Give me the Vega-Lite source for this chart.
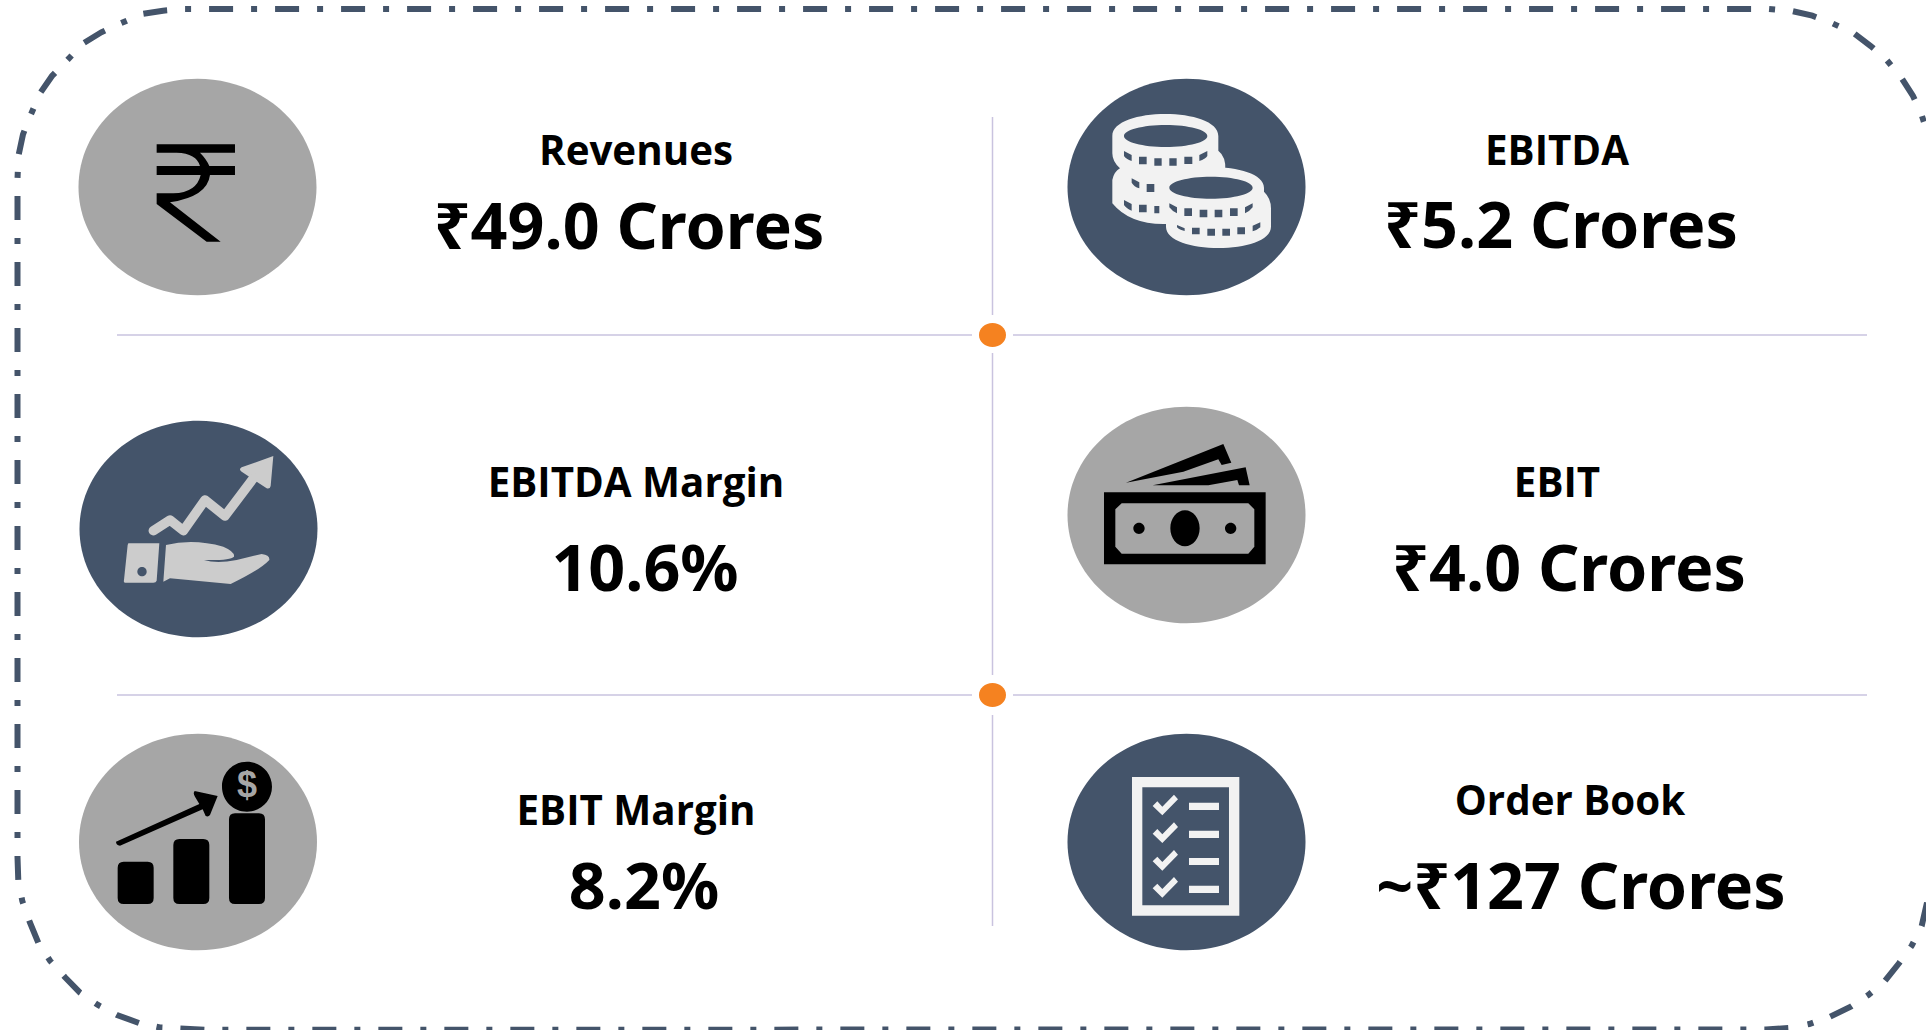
{"$schema":"https://vega.github.io/schema/vega-lite/v6.json","width":1926,"height":1030,"padding":0,"autosize":{"type":"none"},"background":"white","config":{"view":{"stroke":null}},"encoding":{"x":{"field":"x","type":"quantitative","scale":{"domain":[0,1926],"nice":false,"zero":false},"axis":null},"y":{"field":"y","type":"quantitative","scale":{"domain":[1030,0],"nice":false,"zero":false},"axis":null}},"layer":[{"data":{"values":[{"x":117,"x2":972,"y":335,"y2":335},{"x":1013,"x2":1867,"y":335,"y2":335},{"x":117,"x2":972,"y":695,"y2":695},{"x":1013,"x2":1867,"y":695,"y2":695},{"x":992.5,"x2":992.5,"y":117,"y2":315},{"x":992.5,"x2":992.5,"y":353,"y2":675},{"x":992.5,"x2":992.5,"y":715,"y2":926}]},"mark":{"type":"rule","color":"#C9C3DF","strokeWidth":1.5},"encoding":{"x2":{"field":"x2"},"y2":{"field":"y2"}}},{"data":{"values":[{"s":"a","o":0,"x":1788.3,"y":1028},{"s":"a","o":1,"x":1766,"y":1029.5},{"s":"a","o":2,"x":205,"y":1029.7},{"s":"a","o":3,"x":160,"y":1027.5},{"s":"a","o":4,"x":139,"y":1023},{"s":"a","o":5,"x":117,"y":1015},{"s":"a","o":6,"x":98,"y":1005},{"s":"a","o":7,"x":80,"y":992.7},{"s":"a","o":8,"x":65,"y":977.3},{"s":"a","o":9,"x":50,"y":960.7},{"s":"a","o":10,"x":38.3,"y":942.7},{"s":"a","o":11,"x":30,"y":922.7},{"s":"a","o":12,"x":22.3,"y":901},{"s":"a","o":13,"x":18.3,"y":880.7},{"s":"a","o":14,"x":17.5,"y":857},{"s":"a","o":15,"x":17.5,"y":220},{"s":"a","o":16,"x":17.5,"y":179},{"s":"a","o":17,"x":18.5,"y":155.5},{"s":"a","o":18,"x":23,"y":134.3},{"s":"a","o":19,"x":30.7,"y":115},{"s":"a","o":20,"x":40,"y":93.3},{"s":"a","o":21,"x":52,"y":76},{"s":"a","o":22,"x":66.7,"y":60.7},{"s":"a","o":23,"x":83.3,"y":43.3},{"s":"a","o":24,"x":101.3,"y":32.3},{"s":"a","o":25,"x":120.7,"y":23.3},{"s":"a","o":26,"x":142.3,"y":14},{"s":"a","o":27,"x":163,"y":10.7},{"s":"a","o":28,"x":184,"y":9},{"s":"a","o":29,"x":1768.3,"y":9},{"s":"a","o":30,"x":1791.7,"y":11},{"s":"a","o":31,"x":1812.3,"y":15.7},{"s":"a","o":32,"x":1832.3,"y":23.3},{"s":"a","o":33,"x":1854,"y":33.3},{"s":"a","o":34,"x":1870.7,"y":46},{"s":"a","o":35,"x":1886.7,"y":60},{"s":"a","o":36,"x":1901.7,"y":78.3},{"s":"a","o":37,"x":1913,"y":96},{"s":"a","o":38,"x":1921.7,"y":115},{"s":"a","o":39,"x":1928,"y":135},{"s":"b","o":0,"x":1927,"y":902.6},{"s":"b","o":1,"x":1921.7,"y":926},{"s":"b","o":2,"x":1911.7,"y":945.7},{"s":"b","o":3,"x":1899,"y":963.3},{"s":"b","o":4,"x":1884.3,"y":981.7},{"s":"b","o":5,"x":1868.3,"y":995},{"s":"b","o":6,"x":1850.7,"y":1006.7},{"s":"b","o":7,"x":1830,"y":1016.7},{"s":"b","o":8,"x":1809.3,"y":1024},{"s":"b","o":9,"x":1795,"y":1027}]},"mark":{"type":"line","color":"#44546A","strokeWidth":6,"strokeDash":[24,18,6,18],"clip":true},"encoding":{"order":{"field":"o"},"detail":{"field":"s"}}},{"data":{"values":[{"name":"Revenues","x":197.5,"y":187},{"name":"EBITDA","x":1186.5,"y":187},{"name":"EBITDA Margin","x":198.5,"y":529},{"name":"EBIT","x":1186.5,"y":515},{"name":"EBIT Margin","x":198,"y":842},{"name":"Order Book","x":1186.5,"y":842}]},"mark":{"type":"point","filled":true,"opacity":1,"size":56644,"shape":"M-1,0A1,0.91 0 1 1 1,0A1,0.91 0 1 1 -1,0Z"},"encoding":{"color":{"field":"name","type":"nominal","legend":null,"scale":{"domain":["Revenues","EBITDA","EBITDA Margin","EBIT","EBIT Margin","Order Book"],"range":["#A6A6A6","#44546A","#44546A","#A6A6A6","#A6A6A6","#44546A"]}}}},{"data":{"values":[{"x":992.5,"y":335},{"x":992.5,"y":695}]},"mark":{"type":"point","filled":true,"opacity":1,"size":729,"color":"#F58220","shape":"M-1,0A1,0.89 0 1 1 1,0A1,0.89 0 1 1 -1,0Z"}},{"data":{"values":[{"x":0,"y":0}]},"mark":{"type":"point","filled":true,"opacity":1,"size":0.4444,"color":"#000000","shape":"M470,433H705V458H600Q620,478 628,498H705V525H630Q622,590 510,607L662,725H620L470,612V580H520Q590,578 602,525H470V498H600Q590,460 530,458H470Z"}},{"data":{"values":[{"x":1040,"y":60}]},"mark":{"type":"point","filled":true,"opacity":1,"size":0.4444,"color":"#F2F2F2","shape":"M217,228C217,140 535,140 535,228V272Q558,290 556,330L380,492Q270,495 217,430V360Q222,335 240,325Q217,305 217,280ZM355,383C355,300 672,300 672,383V395Q693,415 693,445V500C693,585 378,585 378,500V490Q355,470 355,440Z"}},{"data":{"values":[{"x":1040,"y":60}]},"mark":{"type":"point","filled":true,"opacity":1,"size":0.4444,"color":"#44546A","shape":"M252,228A125,33 0 1 1 502,228A125,33 0 1 1 252,228ZM388,383A125,33 0 1 1 638,383A125,33 0 1 1 388,383ZM252,273L275,285V303Q258,297 252,288ZM297,290H320V313H297ZM343,295H365V317H343ZM388,295H410V317H388ZM433,290H457V312H433ZM478,285L502,273V288Q496,297 478,303ZM275,355L298,367V385Q282,380 275,368ZM320,372H343V396H320ZM252,420L275,432V452Q258,445 252,435ZM297,434H320V457H297ZM343,438H358V460H343ZM388,430L411,442V460Q396,453 388,442ZM433,445H456V468H433ZM479,449H502V472H479ZM524,449H547V472H524ZM570,445H593V468H570ZM615,442L638,430V442Q630,453 615,460ZM411,495L434,505V513Q418,510 411,502ZM456,503H479V523H456ZM502,506H525V527H502ZM547,506H570V527H547ZM592,502H615V523H592ZM638,497L661,487V502Q652,510 638,514Z"}},{"data":{"values":[{"x":60,"y":410}]},"mark":{"type":"point","filled":true,"opacity":1,"size":0.4444,"color":"#CCCCCC","shape":"M640,138L545,172Q535,178 545,185L620,235Q630,238 632,228ZM205,400H298L290,512Q288,518 280,518H195Q190,518 192,510L203,405ZM318,405Q400,385 490,410Q525,425 522,440Q510,452 432,450Q470,462 530,450L605,432Q630,435 628,450Q600,480 512,522L330,505L310,515Z"}},{"data":{"values":[{"x":60,"y":410}]},"mark":{"type":"point","filled":false,"opacity":1,"size":0.4444,"color":"#CCCCCC","strokeWidth":9.5,"strokeCap":"round","strokeJoin":"round","shape":"M280,362L330,330L370,362L435,270L495,318L580,205"}},{"data":{"values":[{"x":60,"y":410}]},"mark":{"type":"point","filled":true,"opacity":1,"size":0.4444,"color":"#44546A","shape":"M232,485A14,14 0 1 1 260,485A14,14 0 1 1 232,485Z"}},{"data":{"values":[{"x":1040,"y":400}]},"mark":{"type":"point","filled":true,"opacity":1,"size":0.4444,"color":"#000000","shape":"M192,277H677V493H192ZM258,248L550,132L574,188L545,195L535,178L430,215ZM338,256L617,202L629,256L597,256L592,240L505,256Z"}},{"data":{"values":[{"x":1040,"y":400}]},"mark":{"type":"point","filled":true,"opacity":1,"size":0.4444,"color":"#A6A6A6","shape":"M245,310H625L643,328V440L625,461H245L226,440V328Z"}},{"data":{"values":[{"x":1040,"y":400}]},"mark":{"type":"point","filled":true,"opacity":1,"size":0.4444,"color":"#000000","shape":"M391,385A44,54 0 1 1 479,385A44,54 0 1 1 391,385ZM280,385A17,17 0 1 1 314,385A17,17 0 1 1 280,385ZM555,385A17,17 0 1 1 589,385A17,17 0 1 1 555,385Z"}},{"data":{"values":[{"x":60,"y":730}]},"mark":{"type":"point","filled":true,"opacity":1,"size":0.4444,"color":"#000000","shape":"M191,395H263Q281,395 281,413V504Q281,522 263,522H191Q173,522 173,504V413Q173,395 191,395ZM358,327H430Q448,327 448,345V504Q448,522 430,522H358Q340,522 340,504V345Q340,327 358,327ZM525,250H597Q615,250 615,268V504Q615,522 597,522H525Q507,522 507,504V268Q507,250 525,250ZM486,170A75,75 0 1 1 636,170A75,75 0 1 1 486,170ZM473,198L404,183Q398,190 405,200L418,222L168,335Q168,345 180,347L428,238L437,258Q445,262 450,255Z"}},{"data":{"values":[{"x":1040,"y":730}]},"mark":{"type":"point","filled":true,"opacity":1,"size":0.4444,"color":"#F2F2F2","shape":"M276,141H598V557H276Z"}},{"data":{"values":[{"x":1040,"y":730}]},"mark":{"type":"point","filled":true,"opacity":1,"size":0.4444,"color":"#44546A","shape":"M307,172H567V526H307Z"}},{"data":{"values":[{"x":1040,"y":730}]},"mark":{"type":"point","filled":true,"opacity":1,"size":0.4444,"color":"#F2F2F2","shape":"M447,218H537V240H447ZM447,302H537V324H447ZM447,384H537V405H447ZM447,467H537V489H447ZM338,228L352,214L367,230L402,194L414,208L367,256ZM338,311L352,297L367,313L402,277L414,291L367,339ZM338,394L352,380L367,396L402,360L414,374L367,422ZM338,475L352,461L367,477L402,441L414,455L367,503Z"}},{"data":{"values":[{"t":"$","x":247,"y":786}]},"mark":{"type":"text","font":"Liberation Sans","fontWeight":"bold","fontSize":36,"color":"#A6A6A6","align":"center","baseline":"middle"},"encoding":{"text":{"field":"t"}}},{"data":{"values":[{"t":"Revenues","x":636,"y":153},{"t":"EBITDA","x":1557,"y":153},{"t":"EBITDA Margin","x":636,"y":485},{"t":"EBIT","x":1557,"y":485},{"t":"EBIT Margin","x":636,"y":813},{"t":"Order Book","x":1570,"y":803}]},"mark":{"type":"text","font":"Open Sans","fontWeight":"bold","fontSize":40.3,"color":"#000000","align":"center","baseline":"middle"},"encoding":{"text":{"field":"t"}}},{"data":{"values":[{"t":"₹49.0 Crores","x":629,"y":230},{"t":"₹5.2 Crores","x":1561,"y":229},{"t":"10.6%","x":645,"y":572},{"t":"₹4.0 Crores","x":1569,"y":572},{"t":"8.2%","x":644,"y":890},{"t":"~₹127 Crores","x":1581,"y":890}]},"mark":{"type":"text","font":"Noto Sans","fontWeight":"bold","fontSize":64.6,"color":"#000000","align":"center","baseline":"middle"},"encoding":{"text":{"field":"t"}}}]}
